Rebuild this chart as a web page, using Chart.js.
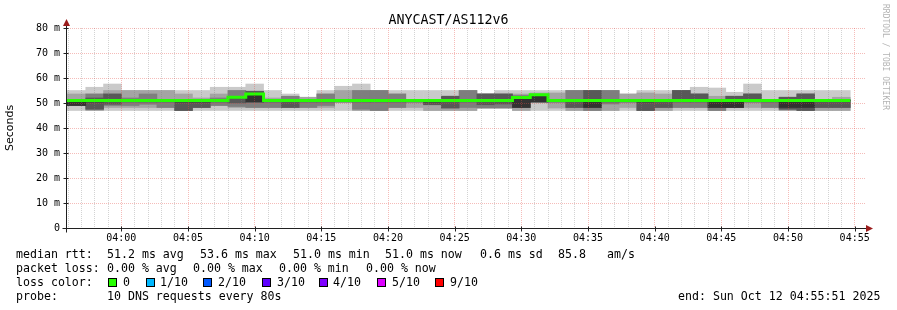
<!DOCTYPE html>
<html>
<head>
<meta charset="utf-8">
<script src="https://cdn.jsdelivr.net/npm/chart.js@4/dist/chart.umd.min.js"></script>
<style>
  body { margin: 0; background: #fff; }
  #wrap { position: relative; width: 897px; height: 310px; overflow: hidden; }
  #chart { position: absolute; left: 0; top: 0; }
  .t { position: absolute; font-family: 'DejaVu Sans Mono', monospace; font-size: 11.6px; line-height: 14px; white-space: pre; color: #000; }
  .title { position: absolute; left: 0; top: 12px; width: 897px; text-align: center; font-family: 'DejaVu Sans Mono', monospace; font-size: 13.3px; line-height: 16px; }
  .box { position: absolute; top: 278px; width: 7px; height: 7px; border: 1px solid #000; }
  .credit { position: absolute; left: 881px; top: 4px; writing-mode: vertical-rl; font-family: 'DejaVu Sans Mono', monospace; font-size: 8px; color: #b4b4b4; }
</style>
</head>
<body>
<div id="wrap">
  <canvas id="chart" width="897" height="310"></canvas>
  <div class="title">ANYCAST/AS112v6</div>
  <div class="credit">RRDTOOL / TOBI OETIKER</div>

  <div class="t" style="left:16px;top:247px">median rtt:</div>
  <div class="t" style="left:107px;top:247px">51.2 ms avg</div>
  <div class="t" style="left:200px;top:247px">53.6 ms max</div>
  <div class="t" style="left:293px;top:247px">51.0 ms min</div>
  <div class="t" style="left:385px;top:247px">51.0 ms now</div>
  <div class="t" style="left:480px;top:247px">0.6 ms sd</div>
  <div class="t" style="left:558px;top:247px">85.8</div>
  <div class="t" style="left:607px;top:247px">am/s</div>

  <div class="t" style="left:16px;top:261px">packet loss:</div>
  <div class="t" style="left:107px;top:261px">0.00 % avg</div>
  <div class="t" style="left:193px;top:261px">0.00 % max</div>
  <div class="t" style="left:279px;top:261px">0.00 % min</div>
  <div class="t" style="left:366px;top:261px">0.00 % now</div>

  <div class="t" style="left:16px;top:275px">loss color:</div>
  <div class="box" style="left:108px;background:#26ff00"></div><div class="t" style="left:123px;top:275px">0</div>
  <div class="box" style="left:146px;background:#00b8ff"></div><div class="t" style="left:160px;top:275px">1/10</div>
  <div class="box" style="left:203px;background:#0059ff"></div><div class="t" style="left:218px;top:275px">2/10</div>
  <div class="box" style="left:262px;background:#5e00ff"></div><div class="t" style="left:277px;top:275px">3/10</div>
  <div class="box" style="left:319px;background:#7e00ff"></div><div class="t" style="left:333px;top:275px">4/10</div>
  <div class="box" style="left:377px;background:#dd00ff"></div><div class="t" style="left:392px;top:275px">5/10</div>
  <div class="box" style="left:435px;background:#ff0000"></div><div class="t" style="left:450px;top:275px">9/10</div>

  <div class="t" style="left:16px;top:289px">probe:</div>
  <div class="t" style="left:107px;top:289px">10 DNS requests every 80s</div>
  <div class="t" style="left:678px;top:289px">end: Sun Oct 12 04:55:51 2025</div>
</div>
<script>
// step end times (80 s probe interval)
const times = ['03:56:00','03:57:20','03:58:40','04:00:00','04:01:20','04:02:40','04:04:00','04:05:20',
  '04:06:40','04:08:00','04:09:20','04:10:40','04:12:00','04:13:20','04:14:40','04:16:00','04:17:20',
  '04:18:40','04:20:00','04:21:20','04:22:40','04:24:00','04:25:20','04:26:40','04:28:00','04:29:20',
  '04:30:40','04:32:00','04:33:20','04:34:40','04:36:00','04:37:20','04:38:40','04:40:00','04:41:20',
  '04:42:40','04:44:00','04:45:20','04:46:40','04:48:00','04:49:20','04:50:40','04:52:00','04:53:20','04:54:40'];

// sorted pings per step (ms), ping1 = fastest ... ping10 = slowest
const ping1 = [47.0,47.0,47.0,47.0,47.0,47.0,47.0,47.0,47.0,47.0,47.0,47.0,47.0,47.0,47.0,47.0,47.0,47.0,47.0,47.0,47.0,47.0,47.0,47.0,48.0,48.0,47.0,47.0,47.0,47.0,47.0,47.0,47.0,47.0,47.0,47.0,47.0,47.0,47.0,47.0,47.0,47.0,47.0,47.0,47.0];
const ping2 = [49.0,49.0,47.0,48.2,48.2,48.2,48.2,47.0,48.2,49.0,48.2,48.2,48.2,48.2,48.2,48.2,50.4,47.0,47.0,48.2,48.2,47.0,47.0,47.0,48.0,48.0,47.0,50.4,48.0,47.0,47.0,47.0,48.2,47.0,47.0,48.2,48.2,47.0,48.2,48.2,48.2,47.0,47.0,47.0,47.0];
const ping3 = [49.0,49.0,47.5,49.0,49.0,49.5,48.2,47.0,48.2,49.0,48.6,48.2,48.2,48.2,48.2,49.0,50.4,47.5,47.0,48.2,50.4,49.3,48.0,48.2,48.0,48.0,48.2,50.4,50.4,48.2,47.0,49.6,50.4,47.0,48.2,48.2,48.2,47.0,48.2,50.4,48.2,47.5,47.0,48.2,48.2];
const ping4 = [49.0,49.0,47.5,49.5,50.4,50.4,50.4,47.0,48.2,50.4,50.0,50.4,50.4,48.2,50.4,50.4,50.4,50.4,50.4,50.4,50.4,49.3,48.0,50.4,49.3,49.6,48.2,50.4,50.4,48.2,48.2,50.4,50.4,47.0,48.2,50.4,50.4,48.2,48.2,50.4,50.4,47.5,47.0,48.2,48.2];
const ping5 = [49.0,49.0,50.4,51.0,51.0,51.0,51.0,50.4,50.4,51.0,52.3,50.4,51.0,51.0,51.0,51.0,51.0,51.0,51.0,51.0,51.0,50.4,51.0,51.0,51.0,51.0,48.2,50.4,51.0,51.0,48.2,51.0,51.0,50.4,51.0,51.0,51.0,48.2,48.2,51.0,51.0,48.2,48.2,51.0,51.0];
const ping6 = [51.0,51.0,51.0,51.0,51.0,51.0,51.0,51.0,51.0,51.0,52.3,53.6,51.0,51.0,51.0,51.0,51.0,51.0,51.0,51.0,51.0,51.0,51.0,51.0,51.0,51.0,52.2,53.3,51.0,51.0,51.0,51.0,51.0,51.0,51.0,51.0,51.0,51.0,51.0,51.0,51.0,51.0,51.0,51.0,51.0];
const ping7 = [51.0,51.0,52.0,53.6,51.3,51.3,51.3,51.3,51.3,51.3,52.3,54.7,51.3,51.3,51.3,51.3,51.3,51.3,51.3,51.3,51.3,51.3,52.7,51.3,53.6,53.6,52.2,53.3,51.3,51.3,55.0,51.3,51.3,51.3,51.3,55.0,53.6,51.3,52.7,53.6,51.3,52.3,53.6,51.3,51.3];
const ping8 = [51.3,51.3,53.6,53.6,52.0,53.6,51.3,51.3,51.3,52.0,55.0,54.7,51.3,52.7,51.3,53.6,51.3,55.0,55.0,53.6,51.3,51.3,52.7,55.0,53.6,53.6,53.0,53.3,51.3,55.0,55.0,55.0,51.3,51.3,51.3,55.0,53.6,51.3,52.7,53.6,51.3,52.3,53.6,51.3,51.3];
const ping9 = [53.6,53.6,53.6,55.0,55.0,55.0,55.0,53.6,52.0,53.6,55.0,54.7,52.0,52.7,52.3,53.6,55.0,55.0,55.0,53.6,51.3,51.3,52.7,55.0,53.6,53.6,53.6,54.0,54.0,55.0,55.0,55.0,53.6,54.0,53.6,55.0,53.6,52.7,52.7,53.6,51.3,52.3,53.6,51.3,52.3];
const ping10 = [55.0,55.0,56.3,57.6,55.0,55.0,55.0,55.0,55.0,56.3,56.3,57.6,55.0,53.6,52.3,55.0,56.7,57.6,55.0,55.0,55.0,55.0,55.0,55.0,53.6,55.0,55.0,55.0,55.0,55.0,55.0,55.0,53.6,55.0,55.0,55.0,56.3,56.0,54.3,57.6,55.0,55.0,55.0,55.0,55.0];

// median rtt per step (ms), 0 loss everywhere
const medianRtt = [51.0,51.0,51.0,51.0,51.0,51.0,51.0,51.0,51.0,51.0,52.3,53.6,51.0,51.0,51.0,51.0,51.0,51.0,51.0,51.0,51.0,51.0,51.0,51.0,51.0,51.0,52.2,53.3,51.0,51.0,51.0,51.0,51.0,51.0,51.0,51.0,51.0,51.0,51.0,51.0,51.0,51.0,51.0,51.0,51.0];

const xTickLabels = ['04:00','04:05','04:10','04:15','04:20','04:25','04:30','04:35','04:40','04:45','04:50','04:55'];

const STEP = 80;
const toSec = s => { const p = s.split(':').map(Number); return p[0] * 3600 + p[1] * 60 + (p[2] || 0); };
const START = toSec('03:55:51');
const END = toSec('04:55:51');

const MAJOR = 'rgba(230, 80, 70, 0.38)';
const MINOR = 'rgba(130, 130, 130, 0.35)';
const NONE = 'rgba(0, 0, 0, 0)';

// one tick per minute for the minor grid
const minuteTicks = [];
for (let t = Math.ceil(START / 60) * 60; t <= END; t += 60) minuteTicks.push(t);
const isMajorMinute = t => t % 300 === 0;

const pings = [ping1, ping2, ping3, ping4, ping5, ping6, ping7, ping8, ping9, ping10];
const shades = ['#cacaca', '#a4a4a4', '#7e7e7e', '#585858', '#323232'];

const smoke = shades.map((color, k) => ({
  type: 'bar',
  label: 'smoke' + (k + 1),
  data: times.map((t, i) => ({ x: toSec(t) - STEP / 2, y: [pings[k][i], pings[9 - k][i]] })),
  backgroundColor: color,
  borderWidth: 0,
  grouped: false,
  barPercentage: 1,
  categoryPercentage: 1,
  order: 10 - k
}));

const median = {
  type: 'line',
  label: 'median',
  data: [{ x: toSec(times[0]) - STEP, y: medianRtt[0] }]
    .concat(times.map((t, i) => ({ x: toSec(t), y: medianRtt[i] }))),
  borderColor: '#26ff00',
  borderWidth: 3,
  pointRadius: 0,
  stepped: 'after',
  fill: false,
  order: 0
};

const frame = {
  id: 'frame',
  afterDraw(chart) {
    const { ctx, chartArea: a, scales } = chart;
    ctx.save();
    ctx.strokeStyle = '#202020';
    ctx.lineWidth = 1;
    ctx.beginPath();
    const x0 = Math.round(a.left) + 0.5, y0 = Math.round(a.bottom) + 0.5;
    ctx.moveTo(x0, y0 + 4); ctx.lineTo(x0, a.top - 3);
    ctx.moveTo(x0 - 4, y0); ctx.lineTo(a.right + 2, y0);
    xTickLabels.forEach(l => {
      const x = Math.round(scales.x.getPixelForValue(toSec(l))) + 0.5;
      ctx.moveTo(x, y0 - 2); ctx.lineTo(x, y0 + 3);
    });
    for (let v = 10; v <= 80; v += 10) {
      const y = Math.round(scales.y.getPixelForValue(v)) + 0.5;
      ctx.moveTo(x0 - 3, y); ctx.lineTo(x0 + 2, y);
    }
    ctx.stroke();
    ctx.fillStyle = '#9b1c1c';
    ctx.beginPath();
    ctx.moveTo(x0, a.top - 9); ctx.lineTo(x0 - 3.5, a.top - 2); ctx.lineTo(x0 + 3.5, a.top - 2);
    ctx.closePath(); ctx.fill();
    ctx.beginPath();
    ctx.moveTo(a.right + 7, y0); ctx.lineTo(a.right, y0 - 3.5); ctx.lineTo(a.right, y0 + 3.5);
    ctx.closePath(); ctx.fill();
    ctx.restore();
  }
};

const tickFont = { family: 'DejaVu Sans Mono', size: 10 };

new Chart(document.getElementById('chart'), {
  data: { datasets: [median].concat(smoke) },
  options: {
    responsive: false,
    animation: false,
    devicePixelRatio: 1,
    layout: { padding: { top: 28, right: 31, bottom: 0, left: 0 } },
    plugins: { legend: { display: false }, tooltip: { enabled: false }, title: { display: false } },
    scales: {
      x: {
        type: 'linear',
        min: START,
        max: END,
        offset: false,
        afterBuildTicks: s => { s.ticks = xTickLabels.map(l => ({ value: toSec(l) })); },
        afterFit: s => { s.height = 82; },
        ticks: {
          autoSkip: false,
          maxRotation: 0,
          padding: 4,
          color: '#000',
          font: tickFont,
          callback: (v, i) => xTickLabels[i]
        },
        grid: { z: 1, drawTicks: false, offset: false, color: MAJOR },
        border: { display: false, dash: [1, 1] }
      },
      xMinor: {
        type: 'linear',
        position: 'bottom',
        min: START,
        max: END,
        offset: false,
        afterBuildTicks: s => { s.ticks = minuteTicks.map(v => ({ value: v })); },
        afterFit: s => { s.height = 0; },
        ticks: { display: false },
        grid: {
          z: 1,
          drawTicks: false,
          offset: false,
          color: c => (c.tick && !isMajorMinute(c.tick.value) ? MINOR : NONE)
        },
        border: { display: false, dash: [1, 1] }
      },
      y: {
        min: 0,
        max: 80,
        afterFit: s => { s.width = 66; },
        ticks: {
          stepSize: 5,
          padding: 6,
          color: '#000',
          font: tickFont,
          callback: v => (v % 10 === 0 ? (v === 0 ? '0' : v + ' m') : '')
        },
        grid: {
          z: 1,
          drawTicks: false,
          color: c => (c.tick && c.tick.value % 10 === 0 ? MAJOR : MINOR)
        },
        border: { display: false, dash: [1, 1] },
        title: {
          display: true,
          text: 'Seconds',
          color: '#000',
          font: { family: 'DejaVu Sans', size: 11 },
          padding: { top: 4, bottom: 0 }
        }
      }
    }
  },
  plugins: [frame]
});
</script>
</body>
</html>
